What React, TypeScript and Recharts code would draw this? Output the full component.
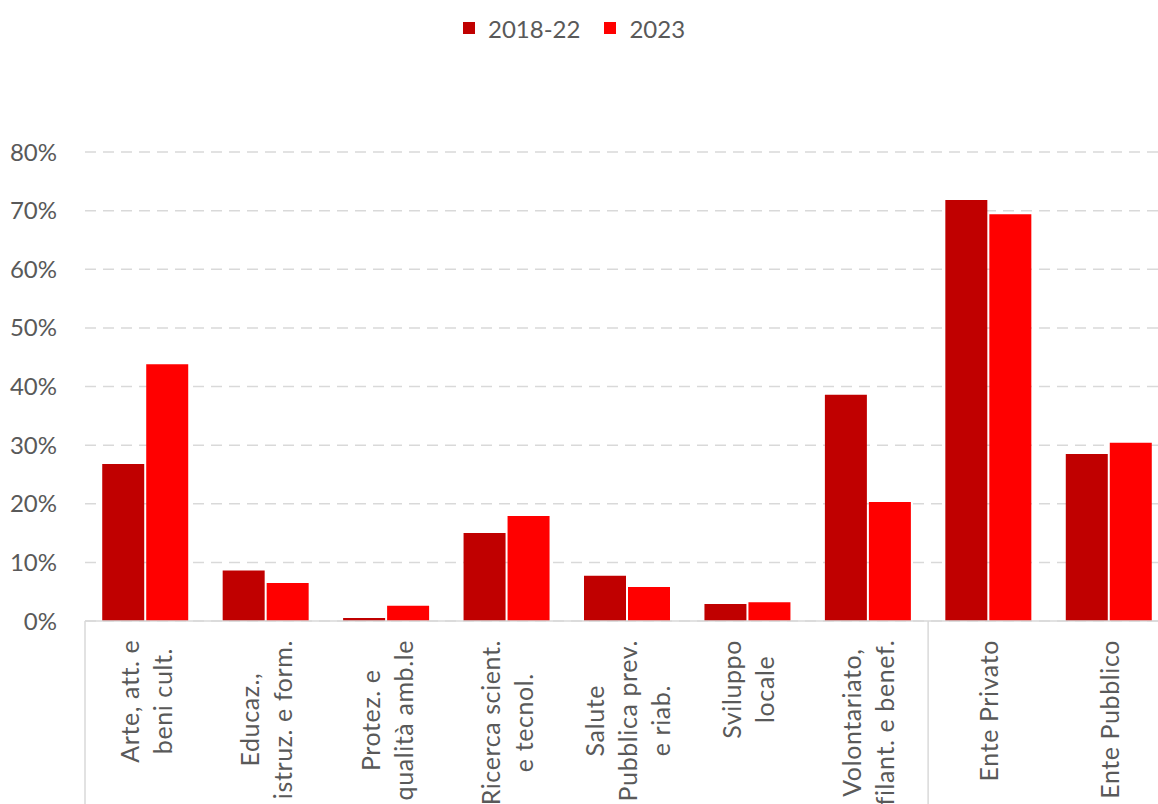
import React from "react";
import {
  Bar,
  BarChart,
  CartesianGrid,
  Legend,
  XAxis,
  YAxis,
} from "recharts";

// category labels, one entry per visual line
const categoryLines: string[][] = [
  ["Arte, att. e", "beni cult."],
  ["Educaz.,", "istruz. e form."],
  ["Protez. e", "qualità amb.le"],
  ["Ricerca scient.", "e tecnol."],
  ["Salute", "Pubblica prev.", "e riab."],
  ["Sviluppo", "locale"],
  ["Volontariato,", "filant. e benef."],
  ["Ente Privato"],
  ["Ente Pubblico"],
];

const categories = categoryLines.map((l) => l.join(" "));

// share of projects, %
const period2018_22 = [26.8, 8.6, 0.5, 15.0, 7.7, 2.9, 38.6, 71.8, 28.5];
const period2023 = [43.8, 6.5, 2.6, 17.9, 5.8, 3.2, 20.3, 69.4, 30.4];

const yTicks = [0, 10, 20, 30, 40, 50, 60, 70, 80];

// categories that start a new group get a separator line
const groupStarts = [0, 7];

const FONT = "Lato, 'Open Sans', sans-serif";
const TEXT = "#595959";
const GRID = "#d9d9d9";
const LABEL_SIZE = 25;
const LABEL_SPACING = 0.6;

const data = categories.map((name, i) => ({
  name,
  a: period2018_22[i],
  b: period2023[i],
}));

let ctx: CanvasRenderingContext2D | null = null;
function measure(s: string, size: number) {
  if (!ctx) ctx = document.createElement("canvas").getContext("2d");
  if (!ctx) return s.length * size * 0.5;
  ctx.font = `${size}px Lato`;
  return ctx.measureText(s).width + s.length * LABEL_SPACING;
}

function CategoryTick(props: any) {
  const { x, y, payload } = props;
  const idx = categories.indexOf(payload.value);
  const lines = categoryLines[idx] || [String(payload.value)];
  const half = payload.offset || 60.2;
  const lineH = 33;
  const w = Math.max(...lines.map((l) => measure(l, LABEL_SIZE)));
  const cy = y + 19 + w / 2;
  return (
    <g>
      {groupStarts.includes(idx) ? (
        <line
          x1={x - half}
          x2={x - half}
          y1={y}
          y2={y + 300}
          stroke={GRID}
          strokeWidth={1.5}
        />
      ) : null}
      {lines.map((l, i) => {
        const lx = x + (i - (lines.length - 1) / 2) * lineH;
        return (
          <text
            key={i}
            x={lx}
            y={cy}
            transform={`rotate(-90, ${lx}, ${cy})`}
            textAnchor="middle"
            dominantBaseline="central"
            fill={TEXT}
            fontSize={LABEL_SIZE}
            fontFamily={FONT}
            letterSpacing={LABEL_SPACING}
          >
            {l}
          </text>
        );
      })}
    </g>
  );
}

function LegendContent(props: any) {
  const items = props.payload || [];
  return (
    <div
      style={{
        display: "flex",
        gap: 24,
        height: 30,
        alignItems: "center",
        fontFamily: FONT,
        fontSize: 24,
        color: TEXT,
      }}
    >
      {items.map((it: any) => (
        <span key={it.value} style={{ display: "flex", alignItems: "center" }}>
          <span
            style={{
              width: 12,
              height: 12,
              background: it.color,
              display: "inline-block",
              marginRight: 13,
            }}
          />
          {it.value}
        </span>
      ))}
    </div>
  );
}

export default function App() {
  return (
    <div
      style={{
        position: "absolute",
        left: 0,
        top: 0,
        width: 1158,
        height: 804,
        overflow: "hidden",
        background: "#fff",
      }}
    >
      <BarChart
        width={1169}
        height={804}
        data={data}
        margin={{ top: 122, right: 0, bottom: 0, left: 0 }}
        barCategoryGap="14.3%"
        barGap={2}
      >
        <CartesianGrid
          vertical={false}
          stroke={GRID}
          strokeWidth={1.5}
          strokeDasharray="11 7"
        />
        <XAxis
          dataKey="name"
          interval={0}
          height={183}
          tickLine={false}
          tickSize={0}
          tickMargin={0}
          axisLine={{ stroke: GRID, strokeWidth: 1.5 }}
          tick={<CategoryTick />}
        />
        <YAxis
          width={85}
          domain={[0, 80]}
          ticks={yTicks}
          interval={0}
          axisLine={false}
          tickLine={false}
          tickSize={0}
          tickMargin={28}
          tickFormatter={(v: number) => `${v}%`}
          tick={{ fill: TEXT, fontSize: 24, fontFamily: FONT }}
        />
        <Legend
          verticalAlign="top"
          align="left"
          height={30}
          content={<LegendContent />}
          wrapperStyle={{ top: 13, left: 463, width: "auto" }}
        />
        <Bar
          dataKey="a"
          name="2018-22"
          fill="#C00000"
          isAnimationActive={false}
        />
        <Bar
          dataKey="b"
          name="2023"
          fill="#FF0000"
          isAnimationActive={false}
        />
      </BarChart>
    </div>
  );
}
